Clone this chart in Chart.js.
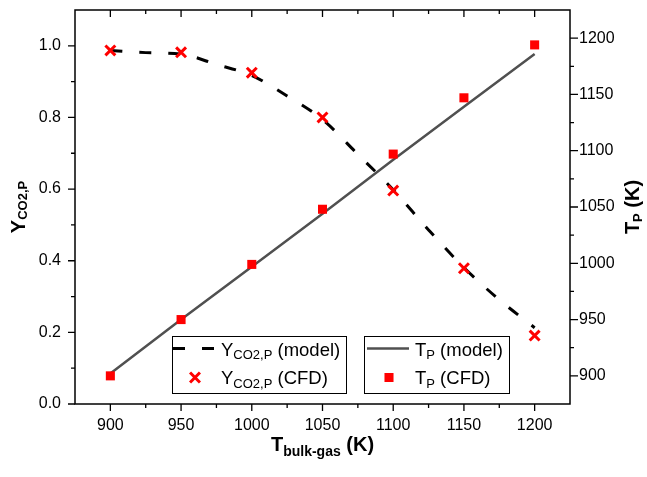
<!DOCTYPE html>
<html>
<head>
<meta charset="utf-8">
<script src="https://cdn.jsdelivr.net/npm/chart.js@4"></script>
<style>
  body { margin: 0; background: #fff; }
  #wrap { width: 647px; height: 477px; }
</style>
</head>
<body>
<div id="wrap"><canvas id="chartCanvas" width="647" height="477"></canvas></div>
<script>
// ===== DATA =====
const modelT = [900, 925, 950, 975, 1000, 1025, 1050, 1075, 1100, 1125, 1150, 1175, 1200];
const yModel = [0.987, 0.981, 0.977, 0.948, 0.917, 0.860, 0.794, 0.697, 0.598, 0.486, 0.381, 0.291, 0.213];

const cfdT = [900, 950, 1000, 1050, 1100, 1150, 1200];
const yCfd = [0.987, 0.982, 0.925, 0.800, 0.596, 0.379, 0.191];
const tpModel = [902, 950, 997, 1044, 1092, 1139, 1186];
const tpCfd = [900, 950, 999, 1048, 1097, 1147, 1194];

const xTicks = [900, 950, 1000, 1050, 1100, 1150, 1200];
const xMinor = [925, 975, 1025, 1075, 1125, 1175];
const yTicks = [0.0, 0.2, 0.4, 0.6, 0.8, 1.0];
const yMinor = [0.1, 0.3, 0.5, 0.7, 0.9];
const tTicks = [900, 950, 1000, 1050, 1100, 1150, 1200];
const tMinor = [925, 975, 1025, 1075, 1125, 1175];

const FONT = '"Liberation Sans", Arial, sans-serif';
const RED = '#ff0000';
const GREY = '#505050';

function pairs(xs, ys) {
    return xs.map((x, i) => ({ x: x, y: ys[i] }));
}

// ===== HELPERS =====
function drawRich(ctx, parts, x, y, align) {
    let total = 0;
    parts.forEach(p => {
        ctx.font = (p.bold ? 'bold ' : '') + p.size + 'px ' + FONT;
        p.w = ctx.measureText(p.t).width;
        total += p.w;
    });
    let cx = align === 'center' ? x - total / 2 : x;
    ctx.textAlign = 'left';
    ctx.textBaseline = 'alphabetic';
    parts.forEach(p => {
        ctx.font = (p.bold ? 'bold ' : '') + p.size + 'px ' + FONT;
        ctx.fillText(p.t, cx, y + (p.dy || 0));
        cx += p.w;
    });
}

function tickMarks(ctx, scale, values, len, side, area) {
    ctx.beginPath();
    values.forEach(v => {
        const p = scale.getPixelForValue(v);
        if (side === 'left') { ctx.moveTo(area.left - len, p); ctx.lineTo(area.left, p); }
        if (side === 'right') { ctx.moveTo(area.right - len, p); ctx.lineTo(area.right, p); }
        if (side === 'bottom') { ctx.moveTo(p, area.bottom); ctx.lineTo(p, area.bottom + len); }
        if (side === 'top') { ctx.moveTo(p, area.top); ctx.lineTo(p, area.top + len); }
    });
    ctx.stroke();
}

function fixSize(prop, size) {
    return s => {
        s[prop] = size;
        s.paddingTop = 0; s.paddingBottom = 0;
        s.paddingLeft = 0; s.paddingRight = 0;
    };
}

// ===== FRAME, TICKS, TITLES, LEGEND =====
const decorPlugin = {
    id: 'decor',
    afterDraw(chart) {
        const ctx = chart.ctx;
        const a = chart.chartArea;
        const sx = chart.scales.x, sy = chart.scales.y, st = chart.scales.y2;
        ctx.save();

        // frame
        ctx.strokeStyle = '#000';
        ctx.lineWidth = 1.5;
        ctx.strokeRect(a.left, a.top, a.right - a.left, a.bottom - a.top);

        // ticks: left/bottom outward, top/right inward
        ctx.lineWidth = 1.3;
        tickMarks(ctx, sy, yTicks, 7, 'left', a);
        tickMarks(ctx, sy, yMinor, 4, 'left', a);
        tickMarks(ctx, sx, xTicks, 7, 'bottom', a);
        tickMarks(ctx, sx, xMinor, 4, 'bottom', a);
        tickMarks(ctx, sx, xTicks, 7, 'top', a);
        tickMarks(ctx, sx, xMinor, 4, 'top', a);
        tickMarks(ctx, st, tTicks, -8, 'right', a);
        tickMarks(ctx, st, tMinor, -4, 'right', a);

        // axis titles
        ctx.fillStyle = '#000';
        drawRich(ctx, [
            { t: 'T', size: 20, bold: true },
            { t: 'bulk-gas', size: 14, bold: true, dy: 5 },
            { t: ' (K)', size: 20, bold: true }
        ], (a.left + a.right) / 2, 451, 'center');

        ctx.save();
        ctx.translate(25, (a.top + a.bottom) / 2);
        ctx.rotate(-Math.PI / 2);
        drawRich(ctx, [
            { t: 'Y', size: 20, bold: true },
            { t: 'CO2,P', size: 13, bold: true, dy: 2 }
        ], 0, 0, 'center');
        ctx.restore();

        ctx.save();
        ctx.translate(639, (a.top + a.bottom) / 2);
        ctx.rotate(-Math.PI / 2);
        drawRich(ctx, [
            { t: 'T', size: 20, bold: true },
            { t: 'P', size: 13, bold: true, dy: 3 },
            { t: ' (K)', size: 20, bold: true }
        ], 0, 0, 'center');
        ctx.restore();

        // legend boxes
        const boxes = [
            { x: 172, y: 336, w: 174, h: 57, sample: 173, text: 221, items: [0, 1] },
            { x: 364, y: 336, w: 145, h: 57, sample: 367, text: 415, items: [2, 3] }
        ];
        const rows = [355.5, 384];
        const ds = chart.data.datasets;
        boxes.forEach(b => {
            ctx.fillStyle = '#fff';
            ctx.fillRect(b.x, b.y, b.w, b.h);
            ctx.strokeStyle = '#000';
            ctx.lineWidth = 1;
            ctx.strokeRect(b.x + 0.5, b.y + 0.5, b.w, b.h);
            b.items.forEach((idx, r) => {
                const d = ds[idx];
                const cy = rows[r] - 7;
                if (d.showLine) {
                    ctx.save();
                    ctx.strokeStyle = d.borderColor;
                    ctx.lineWidth = d.borderWidth;
                    ctx.setLineDash(d.borderDash || []);
                    ctx.beginPath();
                    ctx.moveTo(b.sample, cy);
                    ctx.lineTo(b.sample + 42, cy);
                    ctx.stroke();
                    ctx.restore();
                } else {
                    ctx.save();
                    ctx.fillStyle = d.backgroundColor;
                    ctx.strokeStyle = d.borderColor;
                    ctx.lineWidth = d.borderWidth;
                    Chart.helpers.drawPoint(ctx, {
                        pointStyle: d.pointStyle, radius: d.pointRadius,
                        borderWidth: d.borderWidth, rotation: 0
                    }, b.sample + 22, cy + 0.5);
                    ctx.restore();
                }
                ctx.fillStyle = '#000';
                drawRich(ctx, d.legendParts, b.text, rows[r], 'left');
            });
        });

        ctx.restore();
    }
};

// ===== CHART =====
const canvas = document.getElementById('chartCanvas');
new Chart(canvas, {
    type: 'scatter',
    data: {
        datasets: [
            {
                label: 'Y (model)',
                data: pairs(modelT, yModel),
                yAxisID: 'y',
                showLine: true,
                borderColor: '#000',
                backgroundColor: '#000',
                borderWidth: 3,
                borderDash: [12, 17],
                pointRadius: 0,
                cubicInterpolationMode: 'monotone',
                order: 2,
                legendParts: [
                    { t: 'Y', size: 18.5 },
                    { t: 'CO2,P', size: 13, dy: 3.5 },
                    { t: ' (model)', size: 18.5 }
                ]
            },
            {
                label: 'Y (CFD)',
                data: pairs(cfdT, yCfd),
                yAxisID: 'y',
                showLine: false,
                pointStyle: 'crossRot',
                pointRadius: 7,
                borderWidth: 3,
                borderColor: RED,
                backgroundColor: RED,
                order: 0,
                legendParts: [
                    { t: 'Y', size: 18.5 },
                    { t: 'CO2,P', size: 13, dy: 3.5 },
                    { t: ' (CFD)', size: 18.5 }
                ]
            },
            {
                label: 'T (model)',
                data: pairs(cfdT, tpModel),
                yAxisID: 'y2',
                showLine: true,
                borderColor: GREY,
                backgroundColor: GREY,
                borderWidth: 2.5,
                pointRadius: 0,
                order: 3,
                legendParts: [
                    { t: 'T', size: 18.5 },
                    { t: 'P', size: 13, dy: 3.5 },
                    { t: ' (model)', size: 18.5 }
                ]
            },
            {
                label: 'T (CFD)',
                data: pairs(cfdT, tpCfd),
                yAxisID: 'y2',
                showLine: false,
                pointStyle: 'rect',
                pointRadius: 6.4,
                borderWidth: 0,
                borderColor: RED,
                backgroundColor: RED,
                order: 1,
                legendParts: [
                    { t: 'T', size: 18.5 },
                    { t: 'P', size: 13, dy: 3.5 },
                    { t: ' (CFD)', size: 18.5 }
                ]
            }
        ]
    },
    options: {
        responsive: false,
        animation: false,
        layout: { padding: { top: 6, left: 0, right: 0, bottom: 0 } },
        plugins: {
            legend: { display: false },
            tooltip: { enabled: false }
        },
        scales: {
            x: {
                type: 'linear',
                position: 'bottom',
                min: 875,
                max: 1225,
                grid: { display: false, drawTicks: false },
                border: { display: false },
                afterBuildTicks: s => { s.ticks = xTicks.map(v => ({ value: v })); },
                afterFit: fixSize('height', 73),
                ticks: {
                    padding: 12,
                    color: '#000',
                    font: { family: FONT, size: 16 },
                    maxRotation: 0,
                    callback: v => String(v)
                }
            },
            y: {
                type: 'linear',
                position: 'left',
                min: 0,
                max: 1.1,
                grid: { display: false, drawTicks: false },
                border: { display: false },
                afterBuildTicks: s => { s.ticks = yTicks.map(v => ({ value: v })); },
                afterFit: fixSize('width', 75),
                ticks: {
                    padding: 14,
                    color: '#000',
                    font: { family: FONT, size: 16 },
                    callback: v => Number(v).toFixed(1)
                }
            },
            y2: {
                type: 'linear',
                position: 'right',
                min: 875,
                max: 1225,
                grid: { display: false, drawTicks: false },
                border: { display: false },
                afterBuildTicks: s => { s.ticks = tTicks.map(v => ({ value: v })); },
                afterFit: fixSize('width', 77),
                ticks: {
                    padding: 9,
                    color: '#000',
                    font: { family: FONT, size: 16 },
                    callback: v => String(v)
                }
            }
        }
    },
    plugins: [decorPlugin]
});
</script>
</body>
</html>
